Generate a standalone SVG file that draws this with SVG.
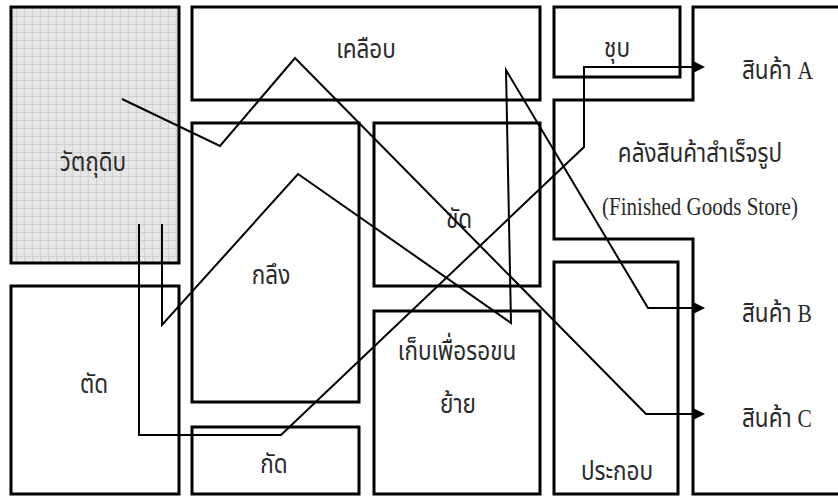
<svg xmlns="http://www.w3.org/2000/svg" width="838" height="497" viewBox="0 0 838 497">
<style>
.box{fill:#fff;stroke:#000;stroke-width:3}
.wall{fill:none;stroke:#000;stroke-width:3}
.con{fill:none;stroke:#000;stroke-width:2;stroke-linejoin:miter}
.th{font-family:"Noto Sans Thai","Noto Serif Thai","Liberation Serif","DejaVu Sans",serif;font-size:22.5px;fill:#2a2a2a;text-anchor:middle}
.en{font-family:"Liberation Serif","Times New Roman",serif;font-size:21px;fill:#2a2a2a;text-anchor:middle}
.lat{font-family:"Liberation Serif","Times New Roman",serif;font-size:21.5px}
.st{text-anchor:start}
</style>
<defs>
<pattern id="grid" width="8" height="8" patternUnits="userSpaceOnUse">
<rect width="8" height="8" fill="#e6e6e6"/>
<path d="M0,0.5H8M0.5,0V8" stroke="#d0d0d0" stroke-width="1"/>
</pattern>
<marker id="arr" markerWidth="12" markerHeight="12" refX="0" refY="6" orient="auto" markerUnits="userSpaceOnUse">
<path d="M0,0L12,6L0,12z" fill="#000"/>
</marker>
</defs>
<rect width="838" height="497" fill="#fff"/>
<g id="raw"><rect x="11" y="7" width="168" height="256" fill="url(#grid)" stroke="#000" stroke-width="3"/><text class="th" transform="translate(93,171) scale(1,1.2)">วัตถุดิบ</text></g>
<g id="coat"><rect class="box" x="192" y="7" width="348" height="93"/><text class="th" transform="translate(366,58) scale(1,1.2)">เคลือบ</text></g>
<g id="plate"><rect class="box" x="554" y="7" width="126" height="70"/><text class="th" transform="translate(617,57) scale(1,1.2)">ชุบ</text></g>
<g id="store"><path class="wall" d="M838,7H693V100H554V239H693V494H838"/><text class="th" transform="translate(700,162) scale(1,1.2)">คลังสินค้าสำเร็จรูป</text><text class="en" transform="translate(700,215) scale(1,1.15)">(Finished Goods Store)</text></g>
<g id="lathe"><rect class="box" x="192" y="123" width="167" height="279"/><text class="th" transform="translate(271,284) scale(1,1.2)">กลึง</text></g>
<g id="polish"><rect class="box" x="374" y="123" width="166" height="163"/><text class="th" transform="translate(459,228) scale(1,1.2)">ขัด</text></g>
<g id="cut"><rect class="box" x="11" y="286" width="168" height="208"/><text class="th" transform="translate(94,393) scale(1,1.2)">ตัด</text></g>
<g id="mill"><rect class="box" x="192" y="427" width="167" height="67"/><text class="th" transform="translate(274,473) scale(1,1.2)">กัด</text></g>
<g id="hold"><rect class="box" x="374" y="311" width="166" height="183"/><text class="th" transform="translate(457,360) scale(1,1.2)">เก็บเพื่อรอขน</text><text class="th" transform="translate(458,413) scale(1,1.2)">ย้าย</text></g>
<g id="assy"><rect class="box" x="554" y="262" width="124" height="232"/><text class="th" transform="translate(617,480) scale(1,1.2)">ประกอบ</text></g>
<g id="pA"><text class="th st" transform="translate(742,79) scale(1,1.2)">สินค้า <tspan class="lat">A</tspan></text></g>
<g id="pB"><text class="th st" transform="translate(742,322) scale(1,1.2)">สินค้า <tspan class="lat">B</tspan></text></g>
<g id="pC"><text class="th st" transform="translate(742,427) scale(1,1.2)">สินค้า <tspan class="lat">C</tspan></text></g>
<g id="connectors">
<path class="con" d="M122,99L220,146L295,58L646,414H693" marker-end="url(#arr)"/>
<path class="con" d="M162,224V325L298,174L511,323L506,70L648,308H693" marker-end="url(#arr)"/>
<path class="con" d="M139,224V435H281L584,147V67H693" marker-end="url(#arr)"/>
</g>
</svg>
